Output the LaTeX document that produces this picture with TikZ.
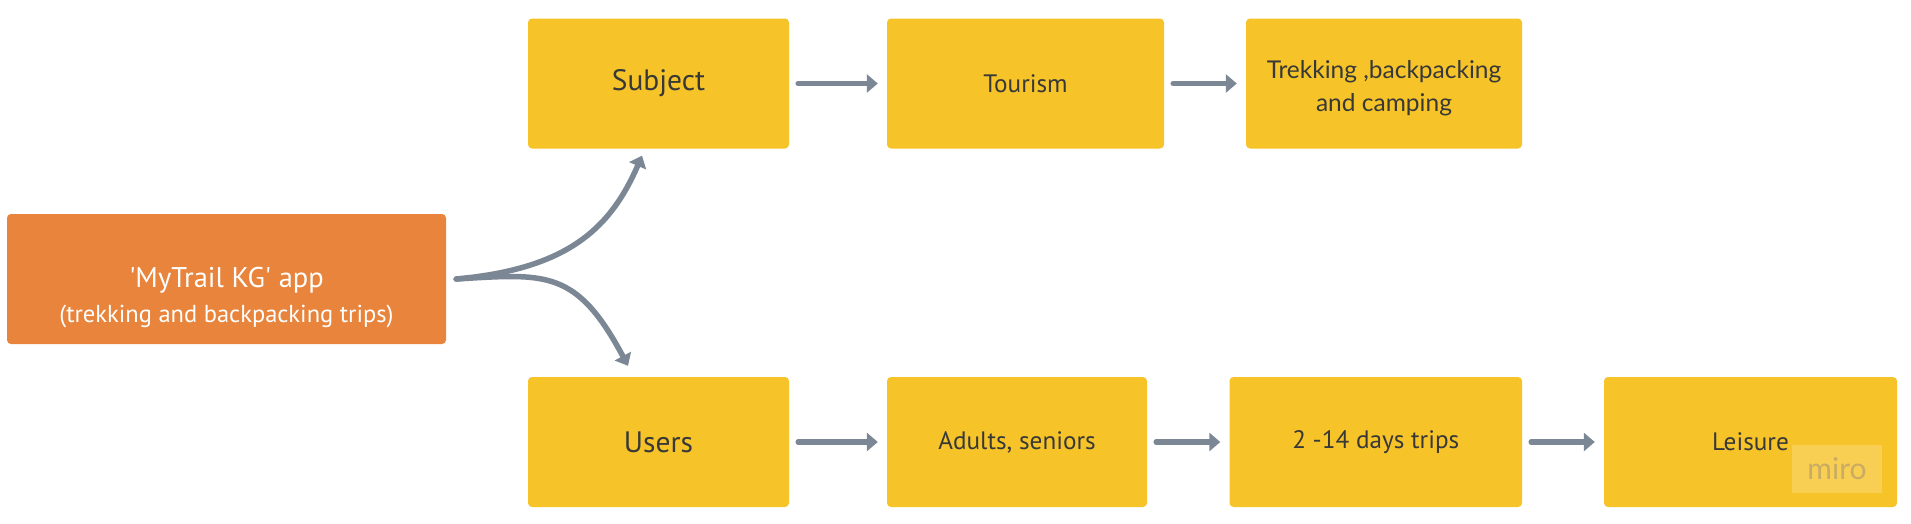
\documentclass[tikz,border=0pt]{standalone}
\usepackage{fontspec}
\setmainfont{PT Sans}
\newfontfamily\ptplain{PT Sans}[Ligatures=TeXOff]
\newfontfamily\trekfont{Lato}
\usetikzlibrary{arrows.meta}
\definecolor{boxyellow}{HTML}{F6C429}
\definecolor{boxorange}{HTML}{E8843B}
\definecolor{arrowgray}{HTML}{7B8794}
\definecolor{textdark}{HTML}{383838}
\definecolor{miropatch}{HTML}{F8CF52}
\definecolor{mirotext}{HTML}{C9AC62}
\begin{document}
\begin{tikzpicture}[x=1pt,y=1pt,
  ybox/.style={fill=boxyellow, rounded corners=4pt, text=textdark, align=center, inner sep=0pt, minimum height=130pt},
  obox/.style={fill=boxorange, rounded corners=4pt, inner sep=0pt, minimum height=130pt, minimum width=439pt},
  otext/.style={text=white, inner sep=0pt, anchor=base},
  flow/.style={draw=arrowgray, line width=5.5pt, line cap=round, -{Triangle[length=11pt,width=18pt]}},
  bigtxt/.style={font=\fontsize{29.5}{34}\selectfont},
  midtxt/.style={font=\fontsize{25.2}{30}\selectfont}
]
\useasboundingbox (0,0) rectangle (1911,-523);
\fill[white] (0,0) rectangle (1911,-523);

\node[obox] (app) at (226.5,-279) {};
\node[otext, font=\ptplain\fontsize{28.5}{32}\selectfont] (apptitle) at ([yshift=-8pt]app.center) {'MyTrail KG' app};
\node[otext, font=\fontsize{24.5}{28}\selectfont] (appsub) at ([yshift=-43pt]app.center) {(trekking and backpacking trips)};

\node[ybox, bigtxt, minimum width=261pt] (subject) at (658.5,-83.5) {Subject};
\node[ybox, midtxt, minimum width=277pt] (tourism) at (1025.5,-83.5) {Tourism};
\node[ybox, minimum width=276pt] (trek) at (1384,-83.5) {};
\node[text=textdark, align=center, inner sep=0pt, font=\trekfont\fontsize{24.5}{33}\selectfont] (treklabel) at ([yshift=-4.5pt]trek.center) {Trekking ,backpacking\\and camping};

\node[ybox, bigtxt, minimum width=261pt] (users) at (658.5,-442) {Users};
\node[ybox, midtxt, minimum width=260pt] (adults) at (1017,-442) {Adults, seniors};
\node[ybox, midtxt, minimum width=292.5pt] (days) at (1375.75,-442) {2 -14 days trips};
\node[ybox, midtxt, minimum width=293pt] (leisure) at (1750.5,-442) {Leisure};

\node[fill=miropatch, minimum width=90pt, minimum height=48pt, inner sep=0pt, text=mirotext, font=\trekfont\fontsize{30}{34}\selectfont] (miro) at (1837,-469) {miro};

\draw[flow, shorten <=9pt, shorten >=9pt] (subject) -- (tourism);
\draw[flow, shorten <=9pt, shorten >=9pt] (tourism) -- (trek);
\draw[flow, shorten <=9pt, shorten >=9pt] (users) -- (adults);
\draw[flow, shorten <=9pt, shorten >=9pt] (adults) -- (days);
\draw[flow, shorten <=9pt, shorten >=9pt] (days) -- (leisure);

\draw[flow] ([xshift=10pt]app.east) .. controls +(110,10) and +(-32,-74) .. ([xshift=-16.5pt,yshift=-7pt]subject.south);
\draw[flow] ([xshift=10pt]app.east) .. controls +(90,5.4) and +(-51.7,96.8) .. ([xshift=-30.5pt,yshift=11pt]users.north);
\end{tikzpicture}
\end{document}
